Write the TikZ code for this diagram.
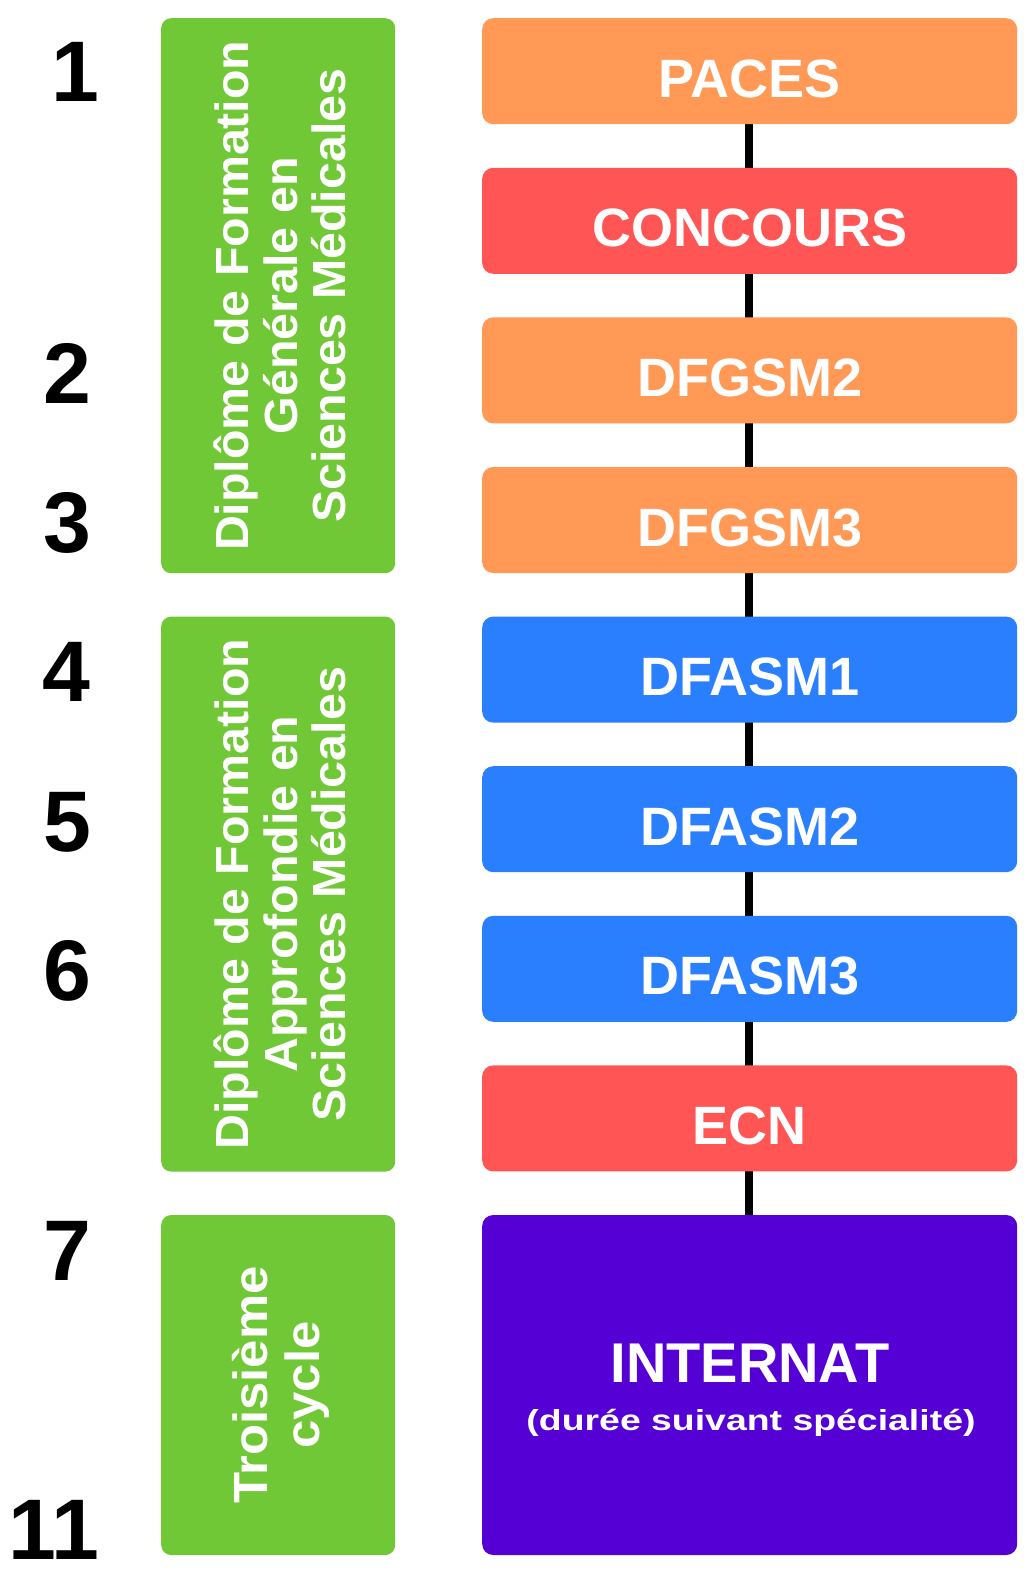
\documentclass[tikz,border=0pt]{standalone}
\usepackage{fontspec}
\setmainfont{Liberation Sans}
\newfontfamily\widesans[FakeStretch=1.04]{Liberation Sans}
\newfontfamily\widersans[FakeStretch=1.06]{Liberation Sans}
\usetikzlibrary{calc}
\definecolor{cOrange}{HTML}{FF9955}
\definecolor{cRed}{HTML}{FF5555}
\definecolor{cBlue}{HTML}{2A7FFF}
\definecolor{cPurple}{HTML}{5500D4}
\definecolor{cGreen}{HTML}{71C837}
\begin{document}
\begin{tikzpicture}[x=1pt,y=-1pt,
  stagebox/.style={rounded corners=11pt, minimum width=535pt, minimum height=106pt, inner sep=0pt, anchor=north west},
  stagetext/.style={text=white, inner sep=0pt, anchor=base, font=\bfseries\fontsize{54}{54}\selectfont},
  cyclebox/.style={fill=cGreen, rounded corners=10pt, minimum width=234pt, inner sep=0pt, anchor=north west},
  cycletext/.style={text=white, inner sep=0pt, rotate=90, align=center, font=\widesans\bfseries\fontsize{46.5}{48.5}\selectfont},
  yearnum/.style={inner sep=0pt, anchor=base, font=\bfseries\fontsize{86}{86}\selectfont},
  link/.style={line width=8pt, black}]
\useasboundingbox (0,0) rectangle (1024,1573);
\fill[white] (0,0) rectangle (1024,1573);

% connector spine (boxes cover it)
\coordinate (l0) at (749,118);
\coordinate (l1) at (749,1222);
\draw[link] (l0) -- (l1);

% stage boxes
\foreach \nm/\txt/\col/\yy in {
  paces/PACES/cOrange/18,
  conc/CONCOURS/cRed/167.6,
  dfgsmb/DFGSM2/cOrange/317.2,
  dfgsmc/DFGSM3/cOrange/466.8,
  dfasma/DFASM1/cBlue/616.4,
  dfasmb/DFASM2/cBlue/766,
  dfasmc/DFASM3/cBlue/915.6,
  ecn/ECN/cRed/1065.2}{
  \node[stagebox, fill=\col] (\nm) at (482,\yy) {};
  \node[stagetext] (\nm t) at ($(\nm.center)+(0,26)$) {\txt};
}

% internat
\node[stagebox, fill=cPurple, minimum height=340pt] (intern) at (482,1214.8) {};
\node[stagetext, font=\bfseries\fontsize{56}{56}\selectfont] (internt) at (750,1382) {INTERNAT};
\node[text=white, inner sep=0pt, anchor=base, font=\bfseries\fontsize{29}{29}\selectfont] (interns) at (751,1430) {\scalebox{1.29}[1]{(durée suivant spécialité)}};

% cycle boxes
\node[cyclebox, minimum height=555pt] (cyc1) at (161,18) {};
\node[cycletext] (cyc1t) at ($(cyc1.center)+(2,0)$) {Diplôme de Formation\\Générale en\\Sciences Médicales};
\node[cyclebox, minimum height=555pt] (cyc2) at (161,616.4) {};
\node[cycletext] (cyc2t) at ($(cyc2.center)+(2,0)$) {Diplôme de Formation\\Approfondie en\\Sciences Médicales};
\node[cyclebox, minimum height=340pt] (cyc3) at (161,1214.8) {};
\node[cycletext, font=\widersans\bfseries\fontsize{48}{52}\selectfont] (cyc3t) at ($(cyc3.center)+(3,0)$) {Troisième\\cycle};

% year numbers
\node[yearnum] (y1) at (75,102) {1};
\node[yearnum] (y2) at (67,403) {2};
\node[yearnum] (y3) at (67,552) {3};
\node[yearnum] (y4) at (66,701) {4};
\node[yearnum] (y5) at (67,851) {5};
\node[yearnum] (y6) at (67,1000) {6};
\node[yearnum] (y7) at (67,1280) {7};
\node[yearnum] (y11) at (54,1559) {11};
\end{tikzpicture}
\end{document}
